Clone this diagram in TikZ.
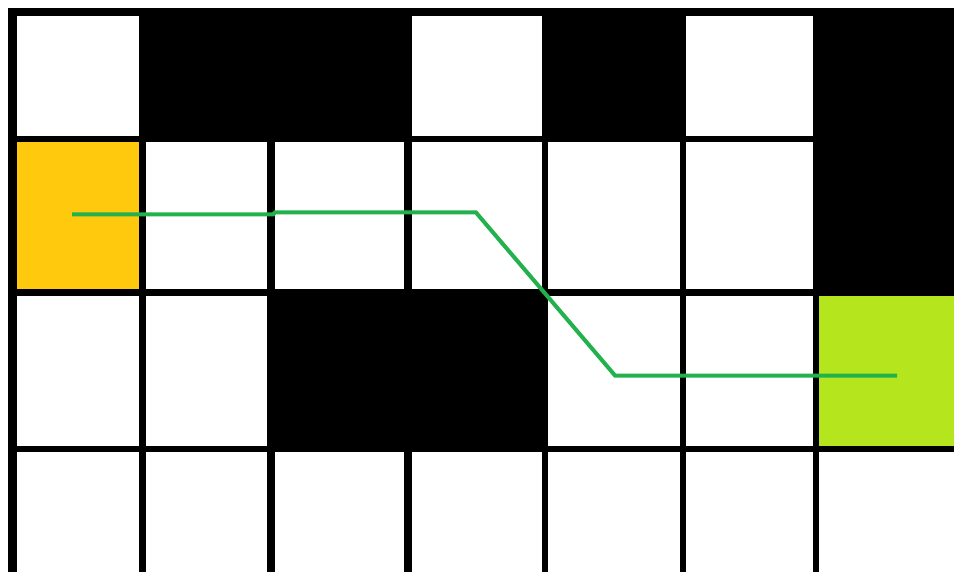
\documentclass[tikz,border=0pt]{standalone}
\definecolor{startc}{HTML}{FFC90E}
\definecolor{goalc}{HTML}{B5E61D}
\definecolor{pathc}{HTML}{22B14C}
\begin{document}
\begin{tikzpicture}[x=1pt,y=-1pt,
  wall/.style={fill=black},
  gridline/.style={fill=black},
  route/.style={draw=pathc,line width=4pt,line join=miter}]
\useasboundingbox (0,0) rectangle (954,572);
\fill[white] (0,0) rectangle (954,572);
% coloured cells
\fill[startc] (12.25,139.5) rectangle (142.5,292.5);
\fill[goalc] (816,292.5) rectangle (954,449);
% obstacle cells
\fill[wall] (142.5,12) rectangle (407.85,139.5);
\fill[wall] (545.15,12) rectangle (682.85,139.5);
\fill[wall] (816,12) rectangle (954,292.5);
\fill[wall] (271,292.5) rectangle (545.15,449);
% vertical grid lines
\fill[gridline] (8,8) rectangle (16.5,572);
\fill[gridline] (139,8) rectangle (146,572);
\fill[gridline] (267,8) rectangle (275,572);
\fill[gridline] (404,8) rectangle (411.7,572);
\fill[gridline] (542,8) rectangle (548.3,572);
\fill[gridline] (680,8) rectangle (685.7,572);
\fill[gridline] (813,8) rectangle (819,572);
% horizontal grid lines
\fill[gridline] (8,8) rectangle (954,16);
\fill[gridline] (8,136.5) rectangle (954,142);
\fill[gridline] (8,289) rectangle (954,296);
\fill[gridline] (8,446) rectangle (954,452);
% route
\coordinate (s) at (72,214.5);
\coordinate (j1) at (273,214.5);
\coordinate (j2) at (275,212.5);
\coordinate (b1) at (476,212.5);
\coordinate (b2) at (615,375.5);
\coordinate (g) at (897,375.5);
\draw[route] (s) -- (j1) -- (j2) -- (b1) -- (b2) -- (g);
\end{tikzpicture}
\end{document}
